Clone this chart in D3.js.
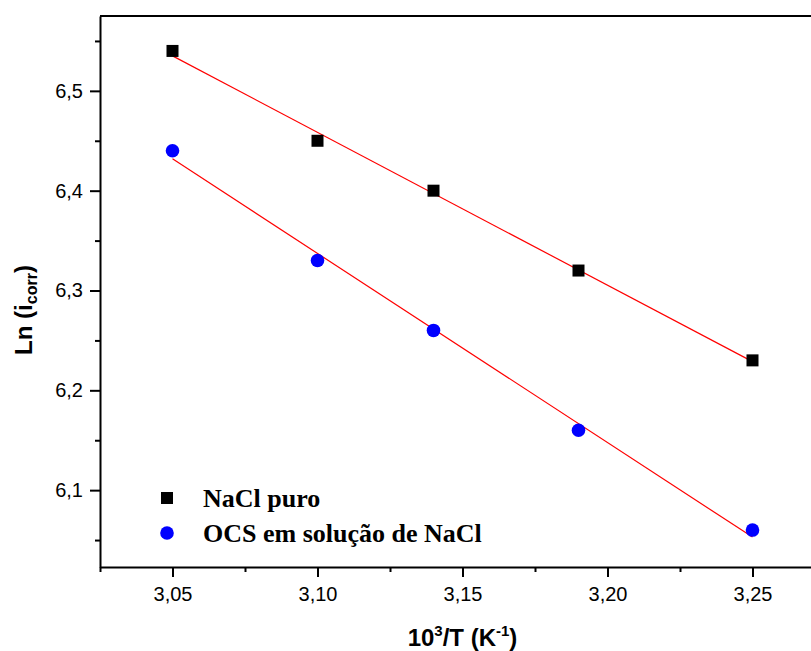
<!DOCTYPE html>
<html>
<head>
<meta charset="utf-8">
<script src="https://cdn.jsdelivr.net/npm/d3@7"></script>
<style>
  html, body { margin: 0; padding: 0; background: #fff; }
  svg { display: block; }
</style>
</head>
<body>
<svg id="chart" width="811" height="651"></svg>
<script>
// Inverse temperature (10^3/T, K^-1)
const invT = [3.05, 3.10, 3.14, 3.19, 3.25];
// Ln(i_corr) for each medium
const nacl = [6.54, 6.45, 6.40, 6.32, 6.23];
const ocs  = [6.44, 6.33, 6.26, 6.16, 6.06];
const seriesNames = ["NaCl puro", "OCS em solução de NaCl"];
const xMajorTicks = [3.05, 3.10, 3.15, 3.20, 3.25];
const xMinorTicks = [3.025, 3.075, 3.125, 3.175, 3.225, 3.275];
const yMajorTicks = [6.1, 6.2, 6.3, 6.4, 6.5];
const yMinorTicks = [6.05, 6.15, 6.25, 6.35, 6.45, 6.55];

const svg = d3.select("#chart");
const plotL = 100, plotR = 825, plotT = 16, plotB = 567;

const x = d3.scaleLinear().domain([3.025, 3.275]).range([plotL, plotR]);
const y = d3.scaleLinear().domain([6.023, 6.575]).range([plotB, plotT]);
const comma = v => d3.format(".2f")(v).replace(".", ",");
const commaY = v => d3.format(".1f")(v).replace(".", ",");

// least-squares line through a series
function fit(xs, ys) {
  const mx = d3.mean(xs), my = d3.mean(ys);
  const sxy = d3.sum(xs, (v, i) => (v - mx) * (ys[i] - my));
  const sxx = d3.sum(xs, v => (v - mx) * (v - mx));
  const b = sxy / sxx, a = my - b * mx;
  return v => a + b * v;
}

// frame: top edge
svg.append("line")
  .attr("x1", plotL).attr("x2", plotR)
  .attr("y1", plotT).attr("y2", plotT)
  .attr("stroke", "#000").attr("stroke-width", 2);

// bottom axis
const xAxis = svg.append("g").attr("transform", `translate(0,${plotB})`)
  .call(d3.axisBottom(x).tickValues(xMajorTicks).tickFormat(comma).tickSize(10).tickSizeOuter(0));
svg.append("g").attr("transform", `translate(0,${plotB})`)
  .call(d3.axisBottom(x).tickValues(xMinorTicks).tickFormat("").tickSize(5).tickSizeOuter(0))
  .call(g => g.select(".domain").remove());
xAxis.select(".domain").attr("stroke-width", 2);
xAxis.selectAll("text").attr("y", 20).attr("dy", "0.71em");

// left axis
const yAxis = svg.append("g").attr("transform", `translate(${plotL},0)`)
  .call(d3.axisLeft(y).tickValues(yMajorTicks).tickFormat(commaY).tickSize(10).tickSizeOuter(0));
svg.append("g").attr("transform", `translate(${plotL},0)`)
  .call(d3.axisLeft(y).tickValues(yMinorTicks).tickFormat("").tickSize(5).tickSizeOuter(0))
  .call(g => g.select(".domain").remove());
yAxis.select(".domain").attr("stroke-width", 2);
yAxis.selectAll("text").attr("x", -17);

svg.selectAll(".tick line").attr("stroke", "#000").attr("stroke-width", 2);
svg.selectAll(".tick text")
  .attr("font-family", "'Liberation Sans', Arial, sans-serif")
  .attr("font-size", 20).attr("fill", "#000");

// regression lines
[nacl, ocs].forEach(ys => {
  const f = fit(invT, ys);
  const x0 = d3.min(invT), x1 = d3.max(invT);
  svg.append("line")
    .attr("x1", x(x0)).attr("y1", y(f(x0)))
    .attr("x2", x(x1)).attr("y2", y(f(x1)))
    .attr("stroke", "#ff0000").attr("stroke-width", 1.2);
});

// data markers
const sq = 12;
svg.append("g").selectAll("rect").data(invT).join("rect")
  .attr("x", (d) => x(d) - sq / 2)
  .attr("y", (d, i) => y(nacl[i]) - sq / 2)
  .attr("width", sq).attr("height", sq).attr("fill", "#000");
svg.append("g").selectAll("circle").data(invT).join("circle")
  .attr("cx", d => x(d))
  .attr("cy", (d, i) => y(ocs[i]))
  .attr("r", 6.8).attr("fill", "#0000ff");

// legend
const leg = svg.append("g").attr("font-family", "'Liberation Serif', 'Times New Roman', serif")
  .attr("font-weight", "bold").attr("font-size", 26).attr("fill", "#000");
leg.append("rect").attr("x", 161).attr("y", 492).attr("width", sq).attr("height", sq).attr("fill", "#000");
leg.append("circle").attr("cx", 167).attr("cy", 533).attr("r", 6.8).attr("fill", "#0000ff");
leg.append("text").attr("x", 203).attr("y", 507).text(seriesNames[0]);
leg.append("text").attr("x", 203).attr("y", 542).text(seriesNames[1]);

// axis titles
const xt = svg.append("text")
  .attr("x", x(3.15)).attr("y", 646)
  .attr("text-anchor", "middle")
  .attr("font-family", "'Liberation Sans', Arial, sans-serif")
  .attr("font-weight", "bold").attr("font-size", 24).attr("fill", "#000");
xt.append("tspan").text("10");
xt.append("tspan").attr("font-size", 15).attr("dy", -10).text("3");
xt.append("tspan").attr("dy", 10).text("/T (K");
xt.append("tspan").attr("font-size", 15).attr("dy", -10).text("-1");
xt.append("tspan").attr("dy", 10).text(")");

const yt = svg.append("text")
  .attr("transform", `translate(32,310) rotate(-90)`)
  .attr("text-anchor", "middle")
  .attr("font-family", "'Liberation Sans', Arial, sans-serif")
  .attr("font-weight", "bold").attr("font-size", 24).attr("fill", "#000");
yt.append("tspan").text("Ln (i");
yt.append("tspan").attr("font-size", 16).attr("dy", 5).text("corr");
yt.append("tspan").attr("dy", -5).text(")");
</script>
</body>
</html>
